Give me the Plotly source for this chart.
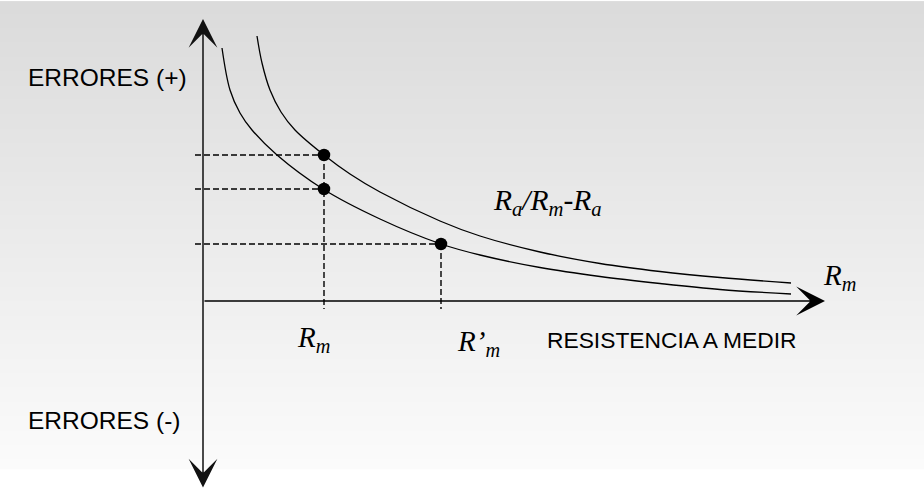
import numpy as np
import plotly.graph_objects as go

# Curve samples (x = resistance, y = error; origin at axes crossing)
upper_x = [54, 59, 67, 78, 92, 121, 147, 177, 237, 277, 337, 397, 457, 517, 588]
upper_y = [265, 238, 211, 189, 171, 146, 127, 109, 80, 65, 49, 37.5, 29.5, 23.5, 18]

lower_x = [19, 27, 37, 49, 74, 120, 177, 238, 277, 337, 397, 457, 517, 588]
lower_y = [253, 211, 188, 171, 146, 112, 82, 57, 46, 33.5, 24.5, 17.5, 11.5, 7]

point_x = [121, 121, 238]
point_y = [146, 112, 57]

x_axis_end = 622
y_axis_top = 282
y_axis_bottom = -188

fig = go.Figure()

# background gradient (light grey at top to near white at bottom)
rows = 60
grad_y = np.linspace(296, -164, rows)
grad_z = [[v, v] for v in np.linspace(0, 1, rows)]
fig.add_trace(go.Heatmap(
    x=[-195, 721], y=grad_y, z=grad_z, zsmooth="best",
    colorscale=[[0, "#dbdbdb"], [1, "#fbfbfb"]], showscale=False,
    hoverinfo="skip"))

dash_style = dict(color="#000000", width=1.4, dash="6px,3px")
# horizontal guides
for px_, py_ in zip(point_x, point_y):
    fig.add_trace(go.Scatter(x=[-8, px_], y=[py_, py_], mode="lines",
                             line=dash_style, hoverinfo="skip", showlegend=False))
# vertical guides (one per distinct x, from the highest point)
for ux in sorted(set(point_x)):
    top = max(py_ for px_, py_ in zip(point_x, point_y) if px_ == ux)
    fig.add_trace(go.Scatter(x=[ux, ux], y=[top, -8], mode="lines",
                             line=dash_style, hoverinfo="skip", showlegend=False))

curve_line = dict(color="#000000", width=1.3, shape="spline", smoothing=1.0)
fig.add_trace(go.Scatter(x=upper_x, y=upper_y, mode="lines", line=curve_line,
                         hoverinfo="skip", showlegend=False))
fig.add_trace(go.Scatter(x=lower_x, y=lower_y, mode="lines", line=curve_line,
                         hoverinfo="skip", showlegend=False))
fig.add_trace(go.Scatter(x=point_x, y=point_y, mode="markers",
                         marker=dict(color="#000000", size=12.5),
                         hoverinfo="skip", showlegend=False))

annotations = []
# vertical axis with arrows at both ends
annotations.append(dict(x=0, y=y_axis_top, ax=0, ay=y_axis_bottom, xref="x", yref="y",
                        axref="x", ayref="y", text="", showarrow=True,
                        arrowhead=3, startarrowhead=3, arrowside="end+start",
                        arrowwidth=1.5, arrowsize=3.2, startarrowsize=3.2,
                        arrowcolor="#111111"))
# horizontal axis with arrow
annotations.append(dict(x=x_axis_end, y=0, ax=0, ay=0, xref="x", yref="y",
                        axref="x", ayref="y", text="", showarrow=True,
                        arrowhead=3, arrowwidth=1.5, arrowsize=3.2,
                        arrowcolor="#000000"))

sans = dict(family="Liberation Sans, Arial, sans-serif", size=24.5, color="#000000")
serif = dict(family="Liberation Serif, Times New Roman, serif", size=29,
             color="#000000", style="italic")

def lab(text, x, y, font):
    annotations.append(dict(x=x, y=y, xref="x", yref="y", text=text, showarrow=False,
                            xanchor="left", yanchor="middle", font=font))

lab("ERRORES (+)", -177, 224, sans)
lab("ERRORES (-)", -177, -119, sans)
lab("RESISTENCIA A MEDIR", 342, -39, dict(sans, size=22.8))
lab("R<sub>m</sub>", 92, -38, serif)
lab("R’<sub>m</sub>", 252, -42, serif)
lab("R<sub>a</sub>/R<sub>m</sub>-R<sub>a</sub>", 288, 99, dict(serif, size=29.5))
lab("R<sub>m</sub>", 618, 24, serif)

fig.update_layout(
    width=924, height=491,
    margin=dict(l=0, r=0, t=0, b=0),
    paper_bgcolor="#ffffff", plot_bgcolor="#ffffff",
    xaxis=dict(range=[-203, 721], visible=False, fixedrange=True),
    yaxis=dict(range=[-190, 301], visible=False, fixedrange=True),
    annotations=annotations,
    showlegend=False,
)

fig.write_html("out.html", config={"displayModeBar": False},
               post_script="document.body.style.margin='0';document.body.style.padding='0';")
